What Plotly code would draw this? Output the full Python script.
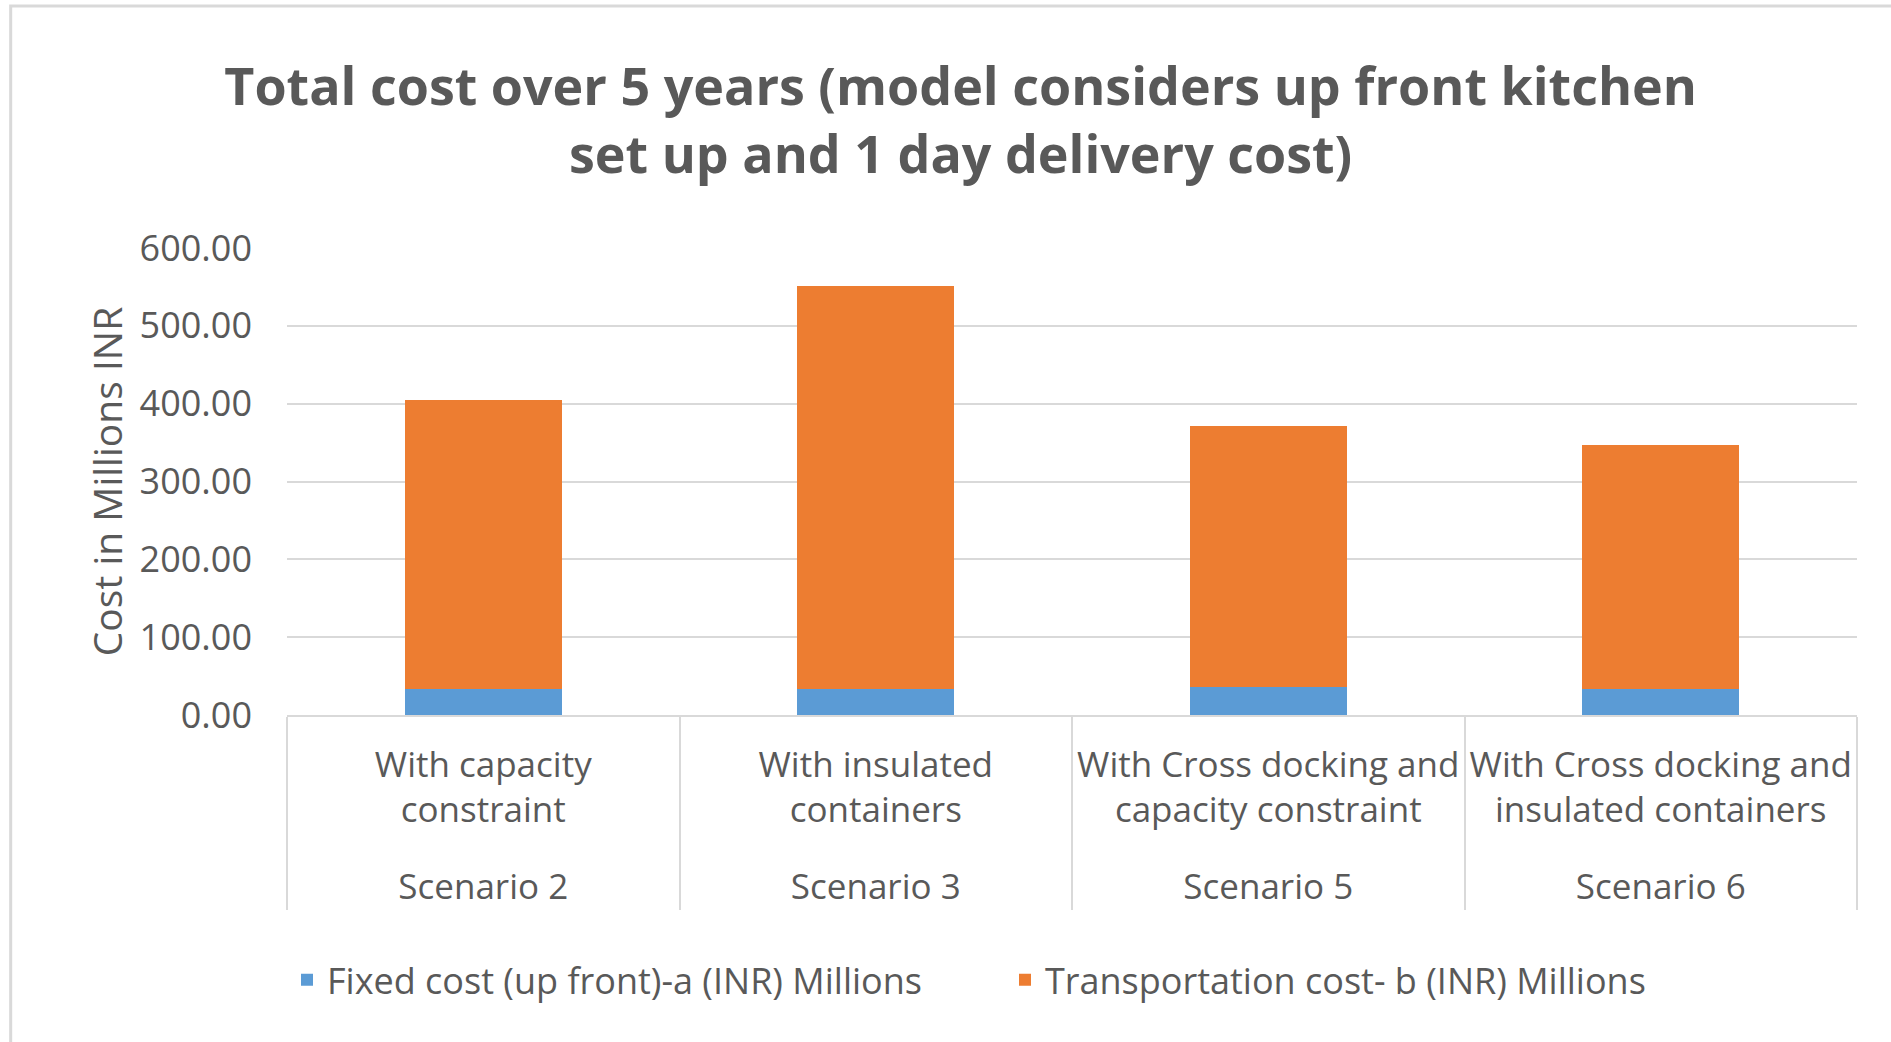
import plotly.graph_objects as go

scenarios = ["Scenario 2", "Scenario 3", "Scenario 5", "Scenario 6"]
descriptions = [
    "With capacity<br>constraint",
    "With insulated<br>containers",
    "With Cross docking and<br>capacity constraint",
    "With Cross docking and<br>insulated containers",
]
fixed_cost = [33.5, 33.5, 36.5, 33.5]
transport_cost = [371.5, 518.0, 335.0, 313.0]
y_ticks = [0, 100, 200, 300, 400, 500, 600]

FONT = "Open Sans"
GREY = "#595959"

outer = ["<br>" + s for s in scenarios]

fig = go.Figure()
fig.add_trace(go.Bar(
    x=[outer, descriptions], y=fixed_cost,
    name="Fixed cost (up front)-a (INR) Millions",
    marker=dict(color="#5B9BD5", line=dict(width=0)),
))
fig.add_trace(go.Bar(
    x=[outer, descriptions], y=transport_cost,
    name="Transportation cost- b (INR) Millions",
    marker=dict(color="#ED7D31", line=dict(width=0)),
))

fig.update_layout(
    width=1891, height=1042,
    barmode="stack", bargap=0.6,
    paper_bgcolor="white", plot_bgcolor="white",
    margin=dict(l=287, r=34, t=248, b=327),
    font=dict(family=FONT, color=GREY, size=32),
    title=dict(
        text="<b>Total cost over 5 years (model considers up front kitchen<br>set up and 1 day delivery cost)</b>",
        x=0.508, xref="container", xanchor="center",
        y=0.899, yref="container", yanchor="middle",
        font=dict(family=FONT, size=52, color=GREY),
    ),
    legend=dict(
        orientation="h", x=0.0, xanchor="left", y=-0.567, yanchor="middle",
        font=dict(family=FONT, size=36, color=GREY),
        traceorder="normal", entrywidth=673, entrywidthmode="pixels",
    ),
    showlegend=True,
    shapes=[
        dict(type="rect", xref="paper", yref="paper",
             x0=-0.176, x1=1.2, y0=-1.0, y1=1.518,
             line=dict(color="#D9D9D9", width=3), fillcolor="rgba(0,0,0,0)",
             layer="below"),
    ],
)

fig.update_yaxes(
    range=[0, 600], tickvals=y_ticks, tickformat=".2f",
    showgrid=True, gridcolor="#D9D9D9", gridwidth=1.5,
    zeroline=False, showline=False,
    tickfont=dict(family=FONT, size=36, color=GREY),
    ticklabelstandoff=34,
    title=dict(text="Cost in Millions INR", standoff=4,
               font=dict(family=FONT, size=39, color=GREY)),
)
fig.update_xaxes(
    type="multicategory",
    showline=True, linecolor="#D9D9D9", linewidth=1.5,
    showdividers=True, dividercolor="#D9D9D9", dividerwidth=1.5,
    tickfont=dict(family=FONT, size=35, color=GREY),
    ticklabelstandoff=18,
    showgrid=False,
)

fig.write_html("out.html", config={"displayModeBar": False},
               post_script="document.body.style.margin='0';")
